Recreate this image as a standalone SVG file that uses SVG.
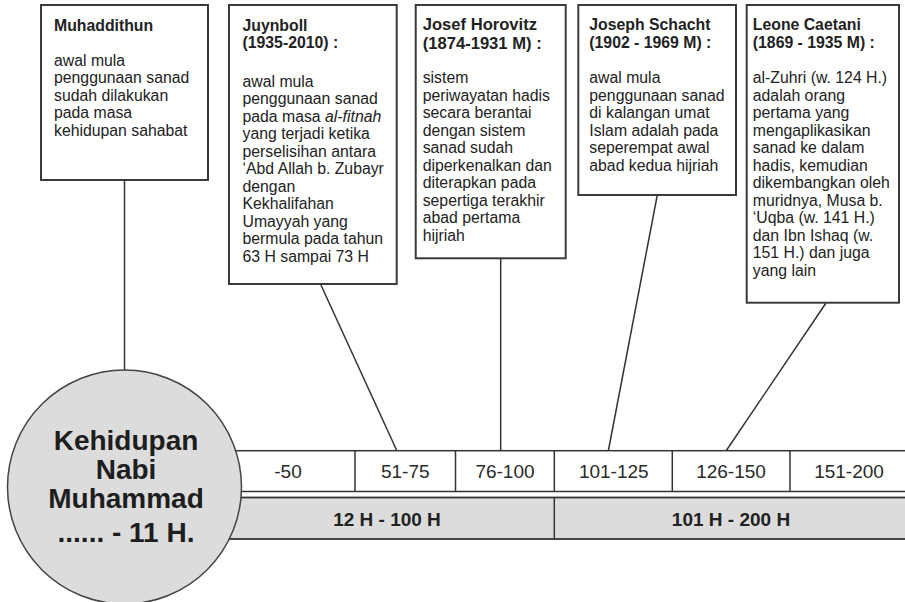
<svg xmlns="http://www.w3.org/2000/svg" width="905" height="602" viewBox="0 0 905 602">
<style>
.box{fill:#fff;stroke:#3a3a3a;stroke-width:2}
.t{font-family:"Liberation Sans",Arial,sans-serif;font-size:15.8px;fill:#222}
.b{font-weight:bold}
.big{font-size:16.6px}
.con{stroke:#333;stroke-width:1.5;fill:none}
.cell{fill:#fff;stroke:#333;stroke-width:1.5}
.gray{fill:#dcdcdc;stroke:#333;stroke-width:1.8}
.ct{font-family:"Liberation Sans",Arial,sans-serif;font-size:19px;fill:#2a2a2a;text-anchor:middle}
.gt{font-family:"Liberation Sans",Arial,sans-serif;font-size:19px;font-weight:bold;fill:#222;text-anchor:middle}
.circ{font-family:"Liberation Sans",Arial,sans-serif;font-size:28px;font-weight:bold;fill:#1e1e1e;text-anchor:middle}
</style>
<rect width="905" height="602" fill="#fff"/>
<g id="connectors">
<line class="con" x1="124.5" y1="180" x2="124.5" y2="371"/>
<line class="con" x1="320.5" y1="284" x2="397" y2="451"/>
<line class="con" x1="500.7" y1="258" x2="500.7" y2="451"/>
<line class="con" x1="657.3" y1="195" x2="608.3" y2="451"/>
<line class="con" x1="826" y1="303" x2="726" y2="451"/>
</g>
<g id="timeline">
<rect class="cell" x="200" y="450.7" width="720" height="40.8"/>
<line class="con" x1="355" y1="450.7" x2="355" y2="491.5"/>
<line class="con" x1="455.5" y1="450.7" x2="455.5" y2="491.5"/>
<line class="con" x1="554.3" y1="450.7" x2="554.3" y2="491.5"/>
<line class="con" x1="672.3" y1="450.7" x2="672.3" y2="491.5"/>
<line class="con" x1="790" y1="450.7" x2="790" y2="491.5"/>
<text class="ct" x="288" y="478">-50</text>
<text class="ct" x="405.3" y="478">51-75</text>
<text class="ct" x="505" y="478">76-100</text>
<text class="ct" x="613.8" y="478">101-125</text>
<text class="ct" x="731" y="478">126-150</text>
<text class="ct" x="849" y="478">151-200</text>
<rect class="gray" x="200" y="497.5" width="720" height="41.5"/>
<line class="con" x1="554.3" y1="497.5" x2="554.3" y2="539"/>
<text class="gt" x="387" y="525.5">12 H - 100 H</text>
<text class="gt" x="731" y="525.5">101 H - 200 H</text>
</g>
<g id="nabi">
<circle cx="124.5" cy="487" r="117" fill="#dcdcdc" stroke="#444" stroke-width="1.5"/>
<text class="circ" x="126" y="450">Kehidupan</text>
<text class="circ" x="126" y="479">Nabi</text>
<text class="circ" x="126" y="508">Muhammad</text>
<text class="circ" x="126" y="542">...... - 11 H.</text>
</g>
<g id="muhaddithun">
<rect class="box" x="41" y="5" width="167" height="175"/>
<text class="t b" x="54" y="30.7">Muhaddithun</text>
<text class="t" x="54" y="65.7">awal mula</text>
<text class="t" x="54" y="83.2">penggunaan sanad</text>
<text class="t" x="54" y="100.7">sudah dilakukan</text>
<text class="t" x="54" y="118.2">pada masa</text>
<text class="t" x="54" y="135.7">kehidupan sahabat</text>
</g>
<g id="juynboll">
<rect class="box" x="229" y="5" width="167.7" height="279"/>
<text class="t b" x="242.5" y="31">Juynboll</text>
<text class="t b" x="242.5" y="48.3">(1935-2010) :</text>
<text class="t" x="242.5" y="86.5">awal mula</text>
<text class="t" x="242.5" y="104">penggunaan sanad</text>
<text class="t" x="242.5" y="121.5">pada masa <tspan font-style="italic">al-fitnah</tspan></text>
<text class="t" x="242.5" y="139">yang terjadi ketika</text>
<text class="t" x="242.5" y="156.5">perselisihan antara</text>
<text class="t" x="242.5" y="174">‘Abd Allah b. Zubayr</text>
<text class="t" x="242.5" y="191.5">dengan</text>
<text class="t" x="242.5" y="209">Kekhalifahan</text>
<text class="t" x="242.5" y="226.5">Umayyah yang</text>
<text class="t" x="242.5" y="244">bermula pada tahun</text>
<text class="t" x="242.5" y="261.5">63 H sampai 73 H</text>
</g>
<g id="horovitz">
<rect class="box" x="415.7" y="5" width="150" height="253.3"/>
<text class="t b big" x="422.7" y="30.3">Josef Horovitz</text>
<text class="t b big" x="422.7" y="49.3">(1874-1931 M) :</text>
<text class="t" x="422.7" y="83.3">sistem</text>
<text class="t" x="422.7" y="100.8">periwayatan hadis</text>
<text class="t" x="422.7" y="118.3">secara berantai</text>
<text class="t" x="422.7" y="135.8">dengan sistem</text>
<text class="t" x="422.7" y="153.3">sanad sudah</text>
<text class="t" x="422.7" y="170.8">diperkenalkan dan</text>
<text class="t" x="422.7" y="188.3">diterapkan pada</text>
<text class="t" x="422.7" y="205.8">sepertiga terakhir</text>
<text class="t" x="422.7" y="223.3">abad pertama</text>
<text class="t" x="422.7" y="240.8">hijriah</text>
</g>
<g id="schacht">
<rect class="box" x="578.3" y="5" width="157.7" height="190"/>
<text class="t b" x="589.3" y="29.5">Joseph Schacht</text>
<text class="t b" x="589.3" y="47.7">(1902 - 1969 M) :</text>
<text class="t" x="589.3" y="83.3">awal mula</text>
<text class="t" x="589.3" y="100.8">penggunaan sanad</text>
<text class="t" x="589.3" y="118.3">di kalangan umat</text>
<text class="t" x="589.3" y="135.8">Islam adalah pada</text>
<text class="t" x="589.3" y="153.3">seperempat awal</text>
<text class="t" x="589.3" y="170.8">abad kedua hijriah</text>
</g>
<g id="caetani">
<rect class="box" x="746.7" y="5" width="152.3" height="297.7"/>
<text class="t b" x="752.8" y="29.5">Leone Caetani</text>
<text class="t b" x="752.8" y="48">(1869 - 1935 M) :</text>
<text class="t" x="752.8" y="83.3">al-Zuhri (w. 124 H.)</text>
<text class="t" x="752.8" y="100.8">adalah orang</text>
<text class="t" x="752.8" y="118.3">pertama yang</text>
<text class="t" x="752.8" y="135.8">mengaplikasikan</text>
<text class="t" x="752.8" y="153.3">sanad ke dalam</text>
<text class="t" x="752.8" y="170.8">hadis, kemudian</text>
<text class="t" x="752.8" y="188.3">dikembangkan oleh</text>
<text class="t" x="752.8" y="205.8">muridnya, Musa b.</text>
<text class="t" x="752.8" y="223.3">‘Uqba (w. 141 H.)</text>
<text class="t" x="752.8" y="240.8">dan Ibn Ishaq (w.</text>
<text class="t" x="752.8" y="258.3">151 H.) dan juga</text>
<text class="t" x="752.8" y="275.8">yang lain</text>
</g>
</svg>
